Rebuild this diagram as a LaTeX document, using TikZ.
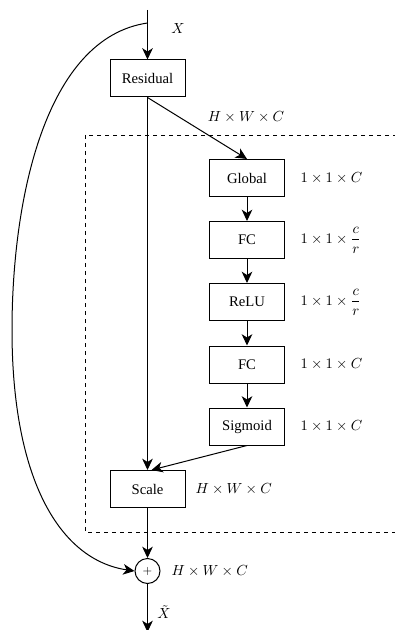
\documentclass[tikz,border=0pt]{standalone}
\usepackage{fontspec}
\setmainfont{Liberation Serif}
\usetikzlibrary{arrows.meta}
\begin{document}
\begin{tikzpicture}[x=0.75pt,y=-0.75pt,
  line width=0.75pt,
  >={Stealth[length=8.5pt,width=8pt,inset=2.5pt]},
  blk/.style={draw,line width=0.75pt,minimum width=56.25pt,minimum height=27.75pt,inner sep=0pt,font=\fontsize{11}{13}\selectfont},
  lab/.style={anchor=west,inner sep=0pt,font=\fontsize{10.5}{12}\selectfont}]
\useasboundingbox (0,0) rectangle (395,630);
\clip (0,0) rectangle (395,630);
% dashed region
\draw[dashed,line width=0.6pt] (85,135) rectangle (420,532);
% nodes
\node[blk] (res) at (147.5,78.5) {Residual};
\node[blk] (glob) at (247,178) {Global};
\node[blk] (fc1) at (247,240) {FC};
\node[blk] (relu) at (247,302) {ReLU};
\node[blk] (fc2) at (247,364.5) {FC};
\node[blk] (sig) at (247,426.5) {Sigmoid};
\node[blk] (scale) at (147.5,489) {Scale};
\node[draw,circle,minimum size=18.75pt,inner sep=0pt,font=\small] (plus) at (147.5,571) {$+$};
\coordinate (top) at (147.5,10);
\coordinate (split) at (147.5,23);
\coordinate (out) at (147.5,632);
% labels
\node[inner sep=0pt,font=\fontsize{10.5}{12}\selectfont] (lx) at (178,29) {$X$};
\node[inner sep=0pt,font=\fontsize{10.5}{12}\selectfont] (lhwc1) at (246,117) {$H\times W\times C$};
\node[lab] (lg) at (300,178) {$1\times1\times C$};
\node[lab] (lf1) at (300,240) {$1\times1\times \displaystyle\frac{c}{r}$};
\node[lab] (lr) at (300,302) {$1\times1\times \displaystyle\frac{c}{r}$};
\node[lab] (lf2) at (300,364.5) {$1\times1\times C$};
\node[lab] (ls) at (300,426.5) {$1\times1\times C$};
\node[lab] (lsc) at (195,489) {$H\times W\times C$};
\node[lab] (lp) at (171,571) {$H\times W\times C$};
\node[inner sep=0pt,font=\fontsize{10.5}{12}\selectfont] (lxt) at (164,612) {$\tilde{X}$};
% connectors
\draw[->] (top) -- (res.north);
\draw[->] (res.south) -- (glob.north);
\draw[->] (res.south) -- (scale.north);
\draw[->] (glob) -- (fc1);
\draw[->] (fc1) -- (relu);
\draw[->] (relu) -- (fc2);
\draw[->] (fc2) -- (sig);
\draw[->] (sig.south) -- ([xshift=3]scale.north);
\draw[->] (scale) -- (plus);
\draw[->] (plus) -- (out);
\draw[->] (split) .. controls (45,38) and (12,200) .. (12,330) .. controls (12,480) and (60,560) .. (plus.west);
\end{tikzpicture}
\end{document}
